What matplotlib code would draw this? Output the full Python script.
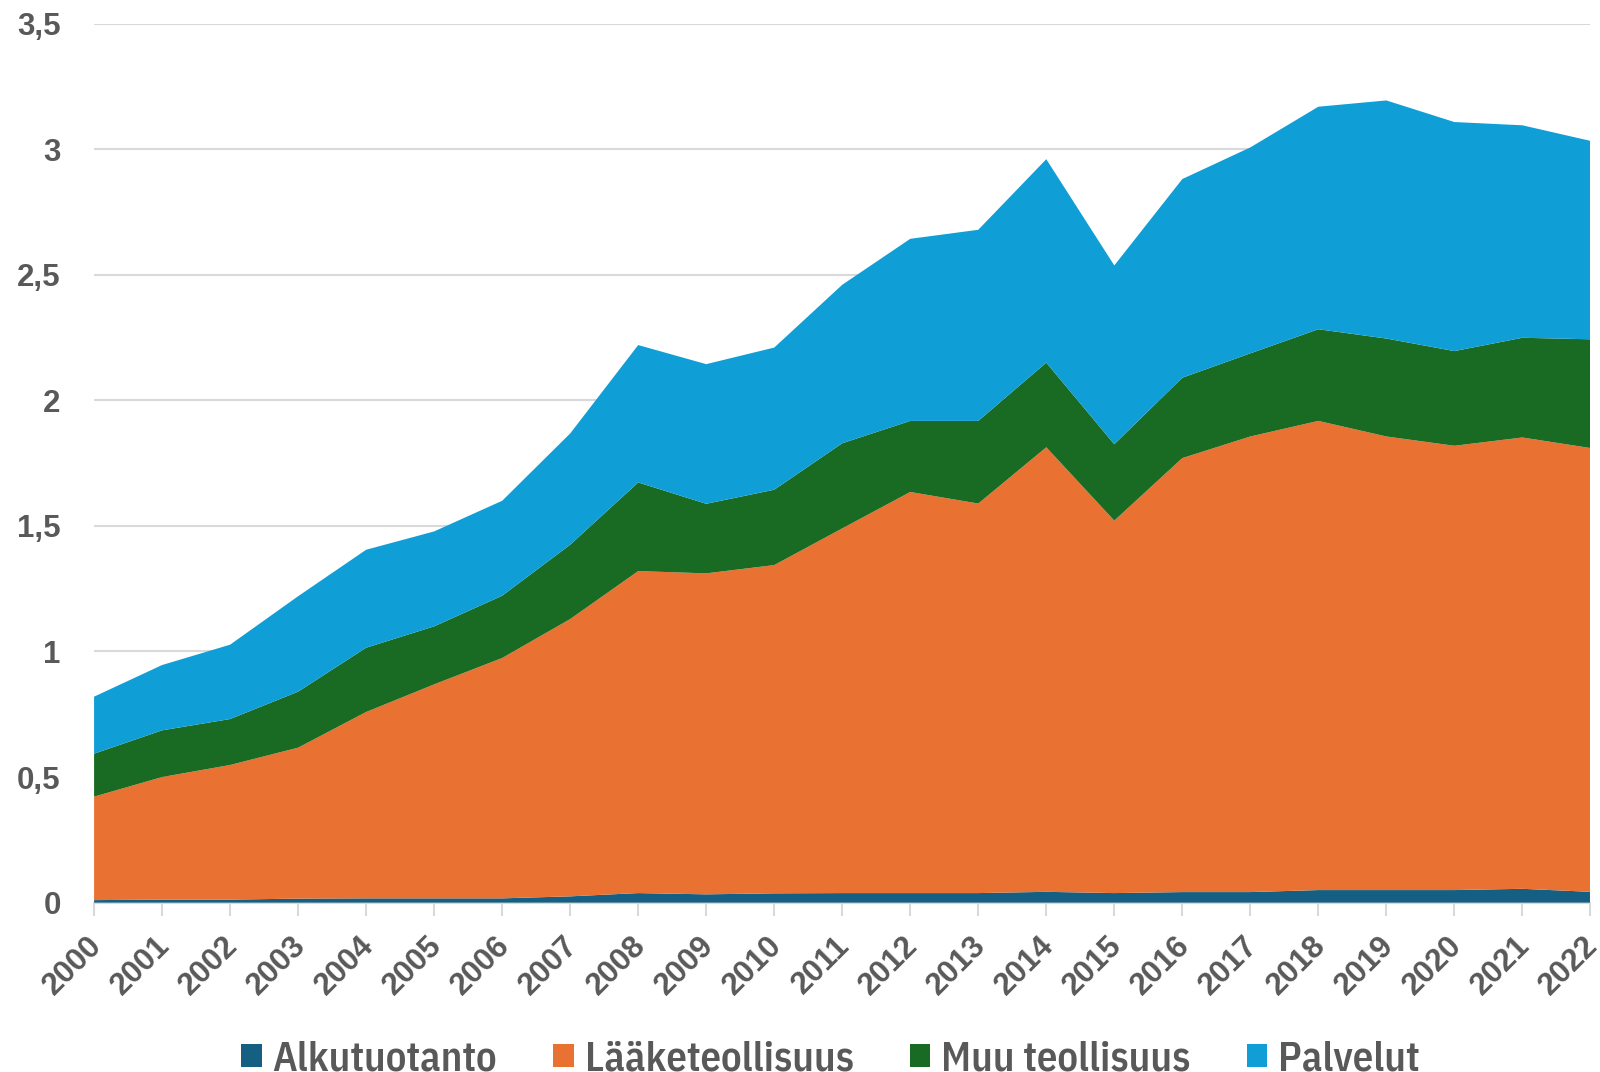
import matplotlib
matplotlib.use("Agg")
import matplotlib.pyplot as plt
from matplotlib.patches import Patch
from matplotlib.ticker import FuncFormatter, MultipleLocator
from matplotlib.transforms import ScaledTranslation

years = list(range(2000, 2023))

series_names = ["Alkutuotanto", "Lääketeollisuus", "Muu teollisuus", "Palvelut"]

alkutuotanto = [0.010, 0.012, 0.012, 0.016, 0.017, 0.017, 0.017, 0.025, 0.038, 0.033,
                0.037, 0.038, 0.038, 0.038, 0.043, 0.038, 0.042, 0.042, 0.050, 0.050,
                0.050, 0.055, 0.043]
laaketeollisuus = [0.412, 0.488, 0.536, 0.601, 0.742, 0.852, 0.957, 1.104, 1.282, 1.278,
                   1.307, 1.452, 1.597, 1.551, 1.770, 1.483, 1.728, 1.814, 1.868, 1.806,
                   1.769, 1.797, 1.767]
muu_teollisuus = [0.171, 0.186, 0.183, 0.223, 0.256, 0.231, 0.248, 0.296, 0.353, 0.277,
                  0.300, 0.339, 0.283, 0.329, 0.337, 0.304, 0.320, 0.331, 0.365, 0.390,
                  0.377, 0.397, 0.433]
palvelut = [0.227, 0.260, 0.296, 0.380, 0.390, 0.378, 0.378, 0.443, 0.547, 0.556,
            0.566, 0.631, 0.725, 0.761, 0.810, 0.712, 0.791, 0.820, 0.886, 0.948,
            0.912, 0.846, 0.790]

colors = ["#156082", "#e97132", "#196b24", "#0f9ed5"]
text_grey = "#595959"
grid_grey = "#d9d9d9"
tick_font = ["Liberation Sans", "DejaVu Sans"]
legend_font = ["IBM Plex Sans Condensed", "DejaVu Sans"]

fig = plt.figure(figsize=(16, 10.72), dpi=100)
ax = fig.add_axes([0.0588, 0.158, 0.9352, 0.820])

ax.stackplot(years, alkutuotanto, laaketeollisuus, muu_teollisuus, palvelut,
             colors=colors, linewidth=0, zorder=2)

ax.set_xlim(2000, 2022)
ax.set_ylim(0, 3.5)
ax.yaxis.set_major_locator(MultipleLocator(0.5))
ax.yaxis.set_major_formatter(FuncFormatter(lambda v, _: f"{v:g}".replace(".", ",")))
ax.set_xticks(years)
ax.set_xticklabels([str(y) for y in years])

ax.grid(axis="y", color=grid_grey, linewidth=1.5, zorder=0)
ax.set_axisbelow(True)
for side in ["top", "right", "left"]:
    ax.spines[side].set_visible(False)
ax.spines["bottom"].set_color(grid_grey)
ax.spines["bottom"].set_linewidth(1.5)
ax.spines["bottom"].set_zorder(1)

ax.tick_params(axis="y", length=0, pad=24, labelsize=22.5, labelcolor=text_grey)
ax.tick_params(axis="x", length=9, width=1.5, color=grid_grey, pad=19,
               labelsize=22.5, labelcolor=text_grey)
for lab in ax.get_yticklabels():
    lab.set_fontweight("bold")
    lab.set_family(tick_font)
shift = ScaledTranslation(3 / 100, 0, fig.dpi_scale_trans)
for lab in ax.get_xticklabels():
    lab.set_fontweight("bold")
    lab.set_family(tick_font)
    lab.set_rotation(45)
    lab.set_ha("right")
    lab.set_va("center")
    lab.set_rotation_mode("anchor")
    lab.set_transform(lab.get_transform() + shift)

handles = [Patch(facecolor=c, edgecolor="none") for c in colors]
fig.legend(handles, series_names, loc="center", bbox_to_anchor=(0.519, 0.012),
           ncol=4, frameon=False, handlelength=0.5, handleheight=0.5,
           handletextpad=0.27, columnspacing=1.38,
           prop={"family": legend_font, "weight": 600, "size": 29.3},
           labelcolor=text_grey)

fig.savefig("out.png", dpi=100)
